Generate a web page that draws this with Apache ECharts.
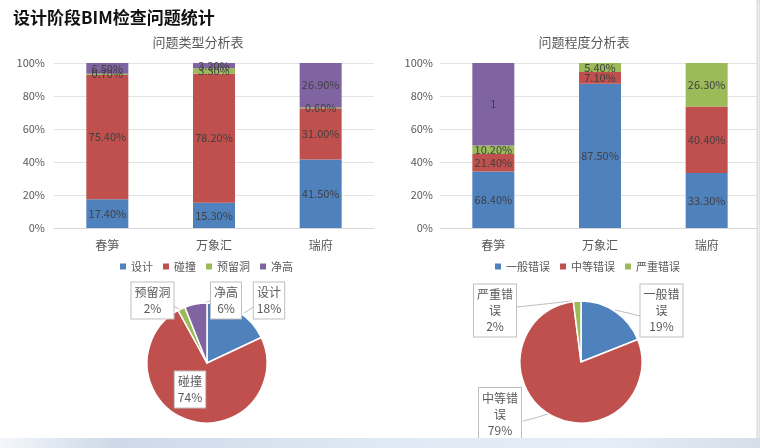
<!DOCTYPE html>
<html><head><meta charset="utf-8">
<script src="https://cdn.jsdelivr.net/npm/echarts@6/dist/echarts.min.js"></script>
<style>html,body{margin:0;padding:0;background:#fff}#c{width:760px;height:448px}</style>
</head><body><div id="c"></div>
<script>
// ---- data ----
const categories = ['春笋', '万象汇', '瑞府'];
const typeNames = ['设计', '碰撞', '预留洞', '净高'];
const typeDesign = [17.4, 15.3, 41.5];
const typeClash = [75.4, 78.2, 31.0];
const typeReserve = [0.7, 3.3, 0.6];
const typeHeight = [6.5, 3.2, 26.9];
const levelNames = ['一般错误', '中等错误', '严重错误'];
const levelGeneral = [0.684, 0.875, 0.333];
const levelMedium = [0.214, 0.071, 0.404];
const levelSevere = [0.102, 0.054, 0.263];
const levelExtra = [1, null, null];
const yTicks = ['0%', '20%', '40%', '60%', '80%', '100%'];
const typePie = [18, 74, 2, 6];
const levelPie = [19, 79, 2];

// ---- style ----
const FONT = '"Noto Sans CJK SC", "Noto Sans", sans-serif';
const C_BLUE = '#4f81bd', C_RED = '#c0504d', C_GREEN = '#9bbb59', C_PURPLE = '#8064a2';
const GRAY = '#595959';

function totals(arrs) {
  return categories.map((_, i) => arrs.reduce((s, a) => s + (a[i] || 0), 0));
}
const typeTotals = totals([typeDesign, typeClash, typeReserve, typeHeight]);
const levelTotals = totals([levelGeneral, levelMedium, levelSevere, levelExtra]);

function barSeries(name, raw, tot, color, idx, fmt) {
  return {
    type: 'bar', name: name, stack: 'st' + idx, xAxisIndex: idx, yAxisIndex: idx, barWidth: 42,
    data: raw.map((v, i) => v == null ? null : v / tot[i] * 100),
    itemStyle: { color: color },
    label: {
      show: true, position: 'inside', color: '#404040', fontSize: 11, fontFamily: FONT,
      formatter: p => raw[p.dataIndex] == null ? '' : fmt(raw[p.dataIndex])
    }
  };
}
const pct2 = v => v.toFixed(2) + '%';
const frac2 = v => (v * 100).toFixed(2) + '%';

const leftLabelPos = [
  { x: 269, y: 300.5, line: [[244, 313], [249, 310], [253, 307]] },
  { x: 190, y: 389.5, line: [[188, 420], [189, 414], [190, 407]] },
  { x: 152.5, y: 300.5, line: [[181, 310], [177, 308], [173, 306]] },
  { x: 226, y: 300.5, line: [[198, 306], [204, 303], [210, 301]] }
];
const rightLabelPos = [
  { x: 661.5, y: 310.5, line: [[615, 310], [628, 313], [640, 316]] },
  { x: 500, y: 414, line: [[548, 414], [535, 418], [523, 421]] },
  { x: 495, y: 310.5, line: [[572, 301], [545, 304], [517, 307]] }
];

function wrapName(n) { return n.length > 3 ? n.slice(0, 3) + '\n' + n.slice(3) : n; }

function pieSeries(names, vals, colors, center, r, pos) {
  return {
    type: 'pie', center: center, radius: r, startAngle: 90, clockwise: true,
    color: colors,
    itemStyle: { borderColor: '#fff', borderWidth: 1.5 },
    data: names.map((n, i) => ({ name: n, value: vals[i] })),
    label: {
      show: true, position: 'outside', fontFamily: FONT, fontSize: 12, color: GRAY,
      lineHeight: 16, backgroundColor: '#fff', borderColor: '#bfbfbf', borderWidth: 1,
      padding: [2, 3], align: 'center',
      formatter: p => wrapName(p.name) + '\n' + Math.round(p.percent) + '%'
    },
    labelLine: { show: true, lineStyle: { color: '#bfbfbf', width: 1 } },
    labelLayout: function (params) {
      const p = pos[params.dataIndex];
      return { x: p.x, y: p.y, align: 'center', verticalAlign: 'middle', labelLinePoints: p.line };
    },
    emphasis: { disabled: true }
  };
}

function xAxis(idx) {
  return {
    type: 'category', gridIndex: idx, data: categories,
    axisLine: { lineStyle: { color: '#d9d9d9' } }, axisTick: { show: false },
    axisLabel: { color: GRAY, fontSize: 12, fontFamily: FONT, margin: 11 }
  };
}
function yAxis(idx) {
  return {
    type: 'value', gridIndex: idx, min: 0, max: 100, interval: 20,
    axisLine: { show: false }, axisTick: { show: false },
    splitLine: { lineStyle: { color: '#e3e3e3' } },
    axisLabel: { color: GRAY, fontSize: 11, fontFamily: FONT, margin: idx === 0 ? 9 : 7, formatter: v => yTicks[Math.round(v / 20)] }
  };
}

const legendCommon = {
  top: 261, icon: 'rect', itemWidth: 6, itemHeight: 6, itemGap: 10, padding: 0,
  textStyle: { color: GRAY, fontSize: 11, fontFamily: FONT }, selectedMode: false
};

const option = {
  animation: false,
  backgroundColor: '#fff',
  textStyle: { fontFamily: FONT },
  grid: [
    { left: 54, width: 320, top: 63, bottom: 220 },
    { left: 440, width: 320, top: 63, bottom: 220 }
  ],
  xAxis: [xAxis(0), xAxis(1)],
  yAxis: [yAxis(0), yAxis(1)],
  legend: [
    Object.assign({ left: 120, data: typeNames }, legendCommon),
    Object.assign({ left: 495, data: levelNames }, legendCommon)
  ],
  series: [
    barSeries('设计', typeDesign, typeTotals, C_BLUE, 0, pct2),
    barSeries('碰撞', typeClash, typeTotals, C_RED, 0, pct2),
    barSeries('预留洞', typeReserve, typeTotals, C_GREEN, 0, pct2),
    barSeries('净高', typeHeight, typeTotals, C_PURPLE, 0, pct2),
    barSeries('一般错误', levelGeneral, levelTotals, C_BLUE, 1, frac2),
    barSeries('中等错误', levelMedium, levelTotals, C_RED, 1, frac2),
    barSeries('严重错误', levelSevere, levelTotals, C_GREEN, 1, frac2),
    barSeries('系列4', levelExtra, levelTotals, C_PURPLE, 1, v => String(v)),
    pieSeries(typeNames, typePie, [C_BLUE, C_RED, C_GREEN, C_PURPLE], [207, 363], 60, leftLabelPos),
    pieSeries(levelNames, levelPie, [C_BLUE, C_RED, C_GREEN], [581, 362], 61, rightLabelPos)
  ],
  graphic: [
    { type: 'text', left: 13, top: 9, style: { text: '设计阶段BIM检查问题统计', fill: '#111', font: 'bold 17px ' + FONT } },
    { type: 'text', x: 198, y: 42, style: { text: '问题类型分析表', fill: GRAY, font: '13px ' + FONT, align: 'center', verticalAlign: 'middle' } },
    { type: 'text', x: 584, y: 42, style: { text: '问题程度分析表', fill: GRAY, font: '13px ' + FONT, align: 'center', verticalAlign: 'middle' } },
    { type: 'rect', shape: { x: 757, y: 0, width: 3, height: 448 }, style: { fill: '#eeeeee', stroke: '#d4d4d4', lineWidth: 1 }, z: 100 },
    { type: 'rect', shape: { x: 0, y: 438, width: 760, height: 10 }, z: 100,
      style: { fill: new echarts.graphic.LinearGradient(0, 0, 1, 0, [
        { offset: 0, color: '#f4f7fb' }, { offset: 0.15, color: '#cdd9e8' },
        { offset: 0.5, color: '#dfe9f5' }, { offset: 0.8, color: '#e6edf6' }, { offset: 1, color: '#d5dee9' }]) } }
  ]
};

const chart = echarts.init(document.getElementById('c'), null, { renderer: 'canvas' });
chart.setOption(option);
</script>
</body></html>
